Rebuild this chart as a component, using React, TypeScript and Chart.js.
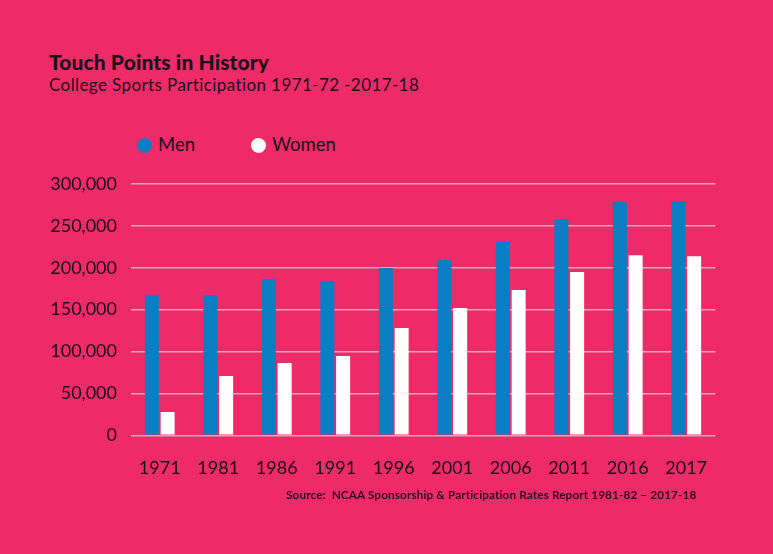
import { useEffect, useRef } from 'react';
import { Chart, registerables } from 'chart.js';

Chart.register(...registerables);

const years = ['1971', '1981', '1986', '1991', '1996', '2001', '2006', '2011', '2016', '2017'];
const menValues = [167100, 167100, 186600, 184200, 199700, 209300, 230800, 257900, 278500, 279300];
const womenValues = [27800, 70800, 86300, 94700, 128100, 152000, 173500, 195000, 214900, 213700];
const yTickValues = [0, 50000, 100000, 150000, 200000, 250000, 300000];

const BG = '#EF2A68';
const BLUE = '#0A7EC2';
const TEXT = '#17111c';
const FONT = 'Lato, "Noto Sans", sans-serif';

export default function App() {
  const canvasRef = useRef<HTMLCanvasElement | null>(null);

  useEffect(() => {
    if (!canvasRef.current) return;
    const chart = new Chart(canvasRef.current, {
      type: 'bar',
      data: {
        labels: years,
        datasets: [
          {
            label: 'Men',
            data: menValues,
            backgroundColor: BLUE,
            borderWidth: 0,
            categoryPercentage: 0.54,
            barPercentage: 0.886,
          },
          {
            label: 'Women',
            data: womenValues,
            backgroundColor: '#FFFFFF',
            borderWidth: 0,
            categoryPercentage: 0.54,
            barPercentage: 0.886,
          },
        ],
      },
      options: {
        responsive: false,
        animation: false,
        layout: { padding: { top: 184, right: 57.5, bottom: 78.7, left: 0 } },
        plugins: {
          legend: { display: false },
          tooltip: { enabled: false },
        },
        scales: {
          x: {
            grid: { display: false },
            border: { display: false },
            ticks: {
              color: TEXT,
              font: { family: FONT, size: 18 },
              padding: 14,
              maxRotation: 0,
            },
            afterFit: (s: any) => {
              s.height = 40;
            },
          },
          y: {
            min: 0,
            max: 300000,
            afterBuildTicks: (s: any) => {
              s.ticks = yTickValues.map((v) => ({ value: v }));
            },
            ticks: {
              color: TEXT,
              font: { family: FONT, size: 18 },
              padding: 13.5,
              callback: (v: any) => Number(v).toLocaleString('en-US'),
            },
            grid: { color: 'rgba(210,210,210,0.75)', lineWidth: 1.5, drawTicks: false },
            border: { display: false },
            afterFit: (s: any) => {
              s.width = 130.5;
            },
          },
        },
      },
    });
    return () => chart.destroy();
  }, []);

  const abs = (extra: any) => ({ position: 'absolute' as const, whiteSpace: 'nowrap' as const, ...extra });

  return (
    <div
      style={{
        position: 'absolute',
        left: 0,
        top: 0,
        width: 773,
        height: 554,
        background: BG,
        overflow: 'hidden',
        fontFamily: FONT,
        color: TEXT,
      }}
    >
      <div style={abs({ left: 49, top: 49.3, fontSize: 21, lineHeight: 1.2, fontWeight: 900, letterSpacing: 0.1 })}>
        Touch Points in History
      </div>
      <div style={abs({ left: 49, top: 74.5, fontSize: 17, lineHeight: 1.2, letterSpacing: 0.4 })}>
        College Sports Participation 1971-72 -2017-18
      </div>

      <span style={abs({ left: 136.5, top: 137.5, width: 15, height: 15, borderRadius: '50%', background: BLUE })} />
      <div style={abs({ left: 158, top: 133, fontSize: 18.5, lineHeight: 1.2 })}>Men</div>
      <span style={abs({ left: 250.5, top: 137.5, width: 15, height: 15, borderRadius: '50%', background: '#FFFFFF' })} />
      <div style={abs({ left: 272, top: 133, fontSize: 18.5, lineHeight: 1.2 })}>Women</div>

      <canvas
        ref={canvasRef}
        width={773}
        height={554}
        style={{ position: 'absolute', left: 0, top: 0, width: 773, height: 554 }}
      />

      <div style={abs({ left: 286, top: 488, fontSize: 11.8, lineHeight: 1.2, fontWeight: 700, letterSpacing: 0.1, color: '#2a1022' })}>
        Source:&nbsp; NCAA Sponsorship &amp; Participation Rates Report 1981-82 – 2017-18
      </div>
    </div>
  );
}
